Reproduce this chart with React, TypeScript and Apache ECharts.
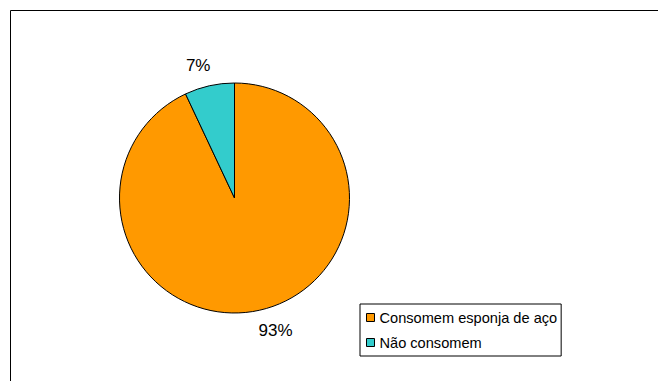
import React, { useEffect, useRef } from "react";
import * as echarts from "echarts";

const categories = ["Consomem esponja de aço", "Não consomem"];
const values = [93, 7];
const colors = ["#FF9900", "#33CCCC"];

export default function App() {
  const ref = useRef<HTMLDivElement>(null);
  useEffect(() => {
    if (!ref.current) return;
    const chart = echarts.init(ref.current, undefined, { renderer: "svg" });
    chart.setOption({
      animation: false,
      backgroundColor: "#fff",
      graphic: [
        {
          type: "rect",
          shape: { x: 10.5, y: 10.5, width: 700, height: 400 },
          style: { fill: "none", stroke: "#000", lineWidth: 1 },
          silent: true,
          z: -1,
        },
      ],
      legend: {
        orient: "vertical",
        left: 360,
        top: 304,
        padding: [6, 4, 6, 6],
        itemGap: 10,
        itemWidth: 8,
        itemHeight: 8,
        icon: "rect",
        borderColor: "#000",
        borderWidth: 1,
        backgroundColor: "#fff",
        itemStyle: { borderColor: "#000", borderWidth: 1 },
        textStyle: { fontFamily: "Liberation Sans", fontSize: 14.6, color: "#000" },
        data: categories,
      },
      series: [
        {
          type: "pie",
          center: [234.5, 198],
          radius: 115,
          startAngle: 90,
          clockwise: true,
          avoidLabelOverlap: false,
          itemStyle: { borderColor: "#000", borderWidth: 1 },
          label: {
            show: true,
            position: "outside",
            formatter: "{d}%",
            fontFamily: "Liberation Sans",
            fontSize: 17,
            color: "#000",
            distanceToLabelLine: -5.6,
          },
          labelLine: { show: false, length: 20.7, length2: 0 },
          emphasis: { disabled: true },
          data: categories.map((name, i) => ({
            name,
            value: values[i],
            itemStyle: { color: colors[i] },
          })),
        },
      ],
    });
    return () => chart.dispose();
  }, []);
  return (
    <div
      ref={ref}
      style={{ position: "absolute", left: 0, top: 0, width: 658, height: 381 }}
    />
  );
}
